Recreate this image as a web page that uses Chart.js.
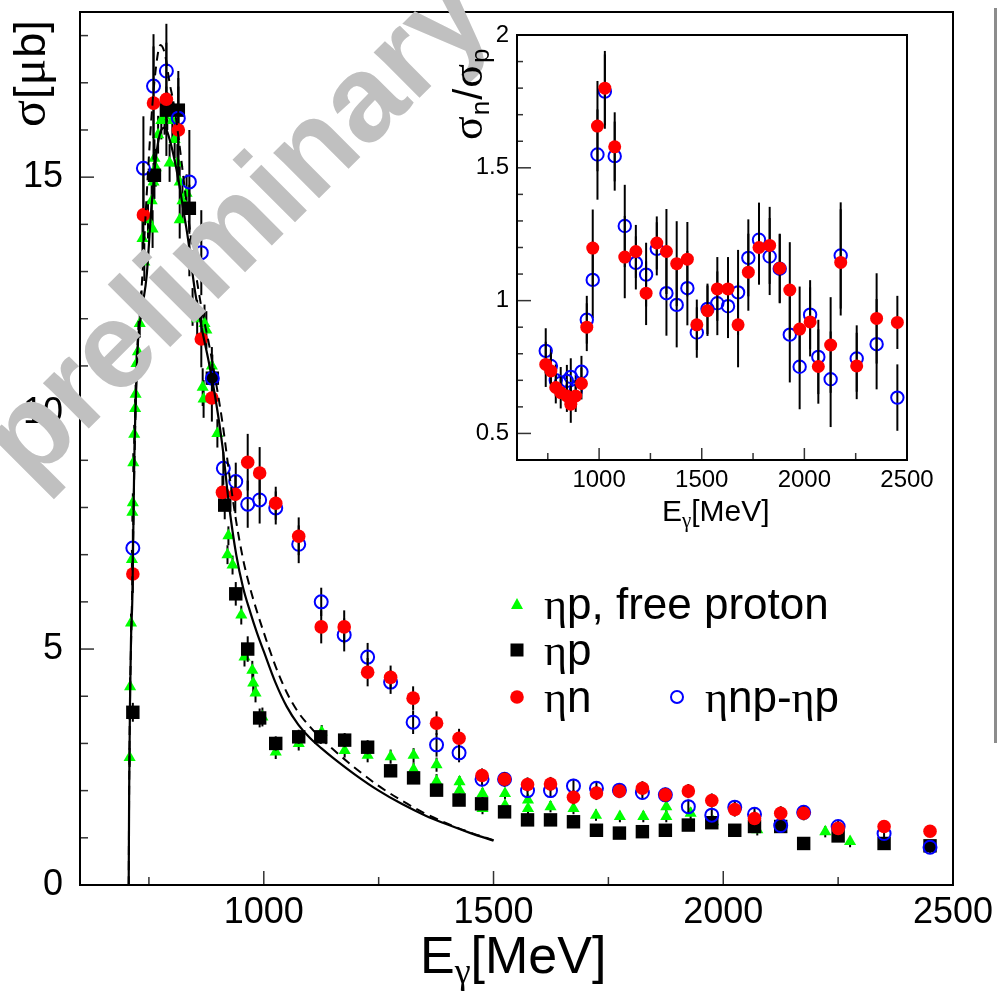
<!DOCTYPE html>
<html>
<head>
<meta charset="utf-8">
<script src="https://cdn.jsdelivr.net/npm/chart.js@4.4.1/dist/chart.umd.min.js"></script>
<style>
  html, body { margin: 0; padding: 0; background: #fff; }
  #wrap { position: relative; width: 998px; height: 991px; overflow: hidden; background: #fff; }
  #main { position: absolute; left: 0; top: 0; }
  #inset { position: absolute; left: 440px; top: 10px; }
  #bar { position: absolute; left: 994px; top: 8px; width: 3px; height: 735px; background: #8c8c8c; }
</style>
</head>
<body>
<div id="wrap">
  <canvas id="main" width="998" height="991"></canvas>
  <canvas id="inset" width="510" height="530"></canvas>
  <div id="bar"></div>
</div>
<script>
// ---- main plot: total cross sections (E in MeV, sigma in microbarn) ----
// eta p, free proton
const gE = [708,709,711,713,714,715,716,718,720,721,723,726,730,734,736,740,748,756,758,760,762,765,770,777,784,790,795,801,806,812,817,817,823,832,838,845,855,867,869,871,875,887,899,921,923,932,951,958,975,977,982,997,1026,1076,1126,1176,1226,1276,1326,1326,1376,1376,1426,1426,1476,1476,1525,1525,1575,1575,1624,1674,1723,1775,1826,1876,1876,1929,1978,2074,2222,2276];
const gS = [2.7,4.2,5.55,6.9,7.9,8.1,8.95,9.55,10.1,10.4,11.05,11.3,11.9,12.3,13.7,13.2,14.1,14.5,13.9,14.9,15.4,15.2,15.9,16.2,16.3,16.4,15.3,16.2,15.8,15.3,14.9,14.1,14.5,14.66,13.3,12.25,12.0,10.55,10.3,11.9,11.76,11.0,9.57,7.0,7.4,6.78,5.72,4.83,4.55,4.28,4.07,3.56,2.82,3.0,3.24,2.85,2.75,2.72,2.45,2.75,2.55,2.2,2.19,2.01,1.94,1.62,1.94,1.69,1.8,1.62,1.66,1.62,1.48,1.45,1.45,1.66,1.45,1.52,1.34,1.17,1.13,0.92];
const gErr = [0.2,0.2,0.2,0.2,0.2,0.2,0.2,0.2,0.2,0.2,0.3,0.3,0.3,0.3,0.4,0.4,0.4,0.4,0.4,0.4,0.4,0.4,0.4,0.4,0.4,0.4,0.4,0.4,0.4,0.4,0.4,0.4,0.4,0.4,0.4,0.4,0.4,0.4,0.4,0.4,0.4,0.4,0.3,0.2,0.2,0.2,0.2,0.2,0.2,0.2,0.2,0.2,0.15,0.15,0.15,0.15,0.15,0.15,0.15,0.15,0.15,0.15,0.12,0.12,0.12,0.12,0.12,0.12,0.12,0.12,0.12,0.12,0.12,0.12,0.12,0.12,0.12,0.12,0.12,0.12,0.12,0.12];
// eta p (quasi-free)
const pE = [715,762,788,814,838,888,915,939,965,991,1026,1076,1124,1176,1226,1276,1326,1376,1425,1474,1524,1574,1624,1674,1724,1774,1824,1874,1924,1975,2025,2068,2125,2175,2250,2350,2450];
const pS = [3.66,15.04,16.42,16.42,14.34,10.74,8.05,6.17,5.0,3.54,3.0,3.14,3.14,3.07,2.92,2.42,2.27,2.01,1.8,1.72,1.55,1.38,1.38,1.34,1.16,1.1,1.13,1.16,1.27,1.32,1.16,1.24,1.24,0.88,1.04,0.88,0.83];
const pErr = [0.2,0.5,0.5,0.5,0.5,0.3,0.3,0.25,0.27,0.2,0.15,0.15,0.15,0.15,0.15,0.12,0.12,0.12,0.12,0.12,0.1,0.1,0.1,0.1,0.1,0.1,0.1,0.1,0.1,0.1,0.1,0.1,0.1,0.1,0.1,0.1,0.1];
// eta n
const nE = [715,738,760,788,814,864,887,910,938,965,991,1026,1076,1125,1175,1226,1276,1325,1376,1425,1475,1524,1574,1624,1674,1724,1774,1824,1874,1924,1975,2025,2068,2125,2175,2250,2350,2450];
const nS = [6.59,14.2,16.57,16.65,16.0,11.57,10.32,8.32,8.28,8.96,8.73,8.09,7.39,5.47,5.47,4.51,4.4,3.96,3.43,3.11,2.32,2.24,2.13,2.14,1.86,1.95,1.99,2.05,1.91,1.99,1.79,1.6,1.41,1.52,1.52,1.2,1.24,1.14];
const nErr = [0.4,1.1,1.2,1.2,1.1,0.6,0.5,0.35,0.4,0.6,0.55,0.35,0.4,0.35,0.35,0.3,0.25,0.25,0.25,0.2,0.15,0.15,0.15,0.15,0.15,0.15,0.15,0.15,0.15,0.15,0.15,0.15,0.15,0.15,0.15,0.12,0.12,0.12];
// eta np - eta p
const bE = [715,738,760,788,814,838,864,888,912,939,965,991,1026,1076,1125,1175,1226,1276,1325,1376,1425,1475,1524,1574,1624,1674,1724,1774,1824,1874,1924,1975,2025,2068,2125,2175,2250,2350,2450];
const bS = [7.14,15.19,16.93,17.25,16.25,14.9,13.4,10.74,8.83,8.55,8.07,8.16,7.99,7.22,6.0,5.3,4.83,4.3,3.45,2.97,2.8,2.24,2.24,2.0,2.0,2.1,2.05,2.01,1.96,1.91,1.66,1.48,1.65,1.5,1.26,1.54,1.24,1.09,0.8];
const bErr = [0.4,1.1,1.1,1.0,1.0,1.1,0.9,0.5,0.35,0.4,0.5,0.5,0.35,0.4,0.3,0.35,0.3,0.25,0.25,0.25,0.2,0.15,0.15,0.15,0.15,0.15,0.15,0.15,0.15,0.15,0.15,0.15,0.15,0.15,0.15,0.15,0.12,0.12,0.12];
// model curves
const fitE = [706,707,709,711,714,718,725,735,745,755,765,775,785,795,805,815,825,835,850,865,880,895,910,925,940,955,970,985,1000,1025,1050,1075,1100,1125,1150,1200,1250,1300,1350,1400,1450,1500];
const fitS = [0,2,4,5.2,6.1,8.9,11.3,12.2,12.9,14.3,15.4,15.95,16.05,15.8,15.4,14.9,14.3,13.7,12.6,11.8,11.1,10.3,9.3,8.0,7.0,6.3,5.8,5.35,4.95,4.3,3.78,3.4,3.12,2.9,2.7,2.33,2.0,1.72,1.48,1.28,1.1,0.94];
const dashE = [706,707,709,712,715,719,726,735,745,755,765,775,785,795,805,815,825,835,850,865,880,895,910,925,940,955,970,985,1000,1025,1050,1075,1100,1125,1150,1200,1250,1300,1350,1400,1450,1500];
const dashS = [0,2,4,5.5,7.0,9.2,11.6,12.8,14.6,16.2,17.3,17.8,17.6,17.0,16.5,15.8,15.0,14.2,13.1,12.2,11.5,10.7,9.8,8.7,7.7,6.9,6.3,5.8,5.35,4.65,4.08,3.66,3.36,3.1,2.88,2.47,2.1,1.79,1.52,1.3,1.11,0.95];

// ---- inset: ratio sigma_n / sigma_p ----
const rE = [740,765,789,813,843,862,886,914,940,969,992,1028,1076,1125,1179,1229,1281,1328,1378,1430,1476,1528,1576,1628,1677,1727,1779,1831,1880,1929,1977,2028,2068,2128,2177,2255,2352,2453];
const rRed = [0.76,0.735,0.673,0.654,0.641,0.61,0.641,0.688,0.9,1.198,1.657,1.8,1.579,1.164,1.185,1.028,1.217,1.185,1.139,1.156,0.909,0.962,1.044,1.044,0.909,1.107,1.2,1.208,1.122,1.04,0.893,0.92,0.752,0.833,1.144,0.754,0.933,0.918];
const rRedErr = [0.085,0.07,0.06,0.06,0.06,0.07,0.06,0.06,0.09,0.145,0.17,0.14,0.13,0.155,0.1,0.12,0.1,0.16,0.16,0.14,0.095,0.095,0.12,0.12,0.16,0.145,0.14,0.145,0.13,0.18,0.16,0.13,0.14,0.18,0.2,0.125,0.17,0.1];
const rBlue = [0.811,0.754,0.7,0.69,0.698,0.713,0.66,0.732,0.928,1.078,1.55,1.787,1.544,1.281,1.142,1.098,1.195,1.028,0.984,1.047,0.88,0.969,0.99,0.979,1.031,1.161,1.229,1.166,1.12,0.872,0.751,0.947,0.788,0.704,1.17,0.782,0.836,0.635];
const rBlueErr = [0.085,0.07,0.06,0.06,0.06,0.07,0.06,0.06,0.09,0.145,0.17,0.14,0.13,0.155,0.1,0.12,0.1,0.16,0.16,0.14,0.095,0.095,0.12,0.12,0.16,0.145,0.14,0.145,0.13,0.18,0.16,0.13,0.14,0.18,0.2,0.125,0.17,0.125];

const mainXTicks = [1000, 1500, 2000, 2500];
const mainYTicks = [0, 5, 10, 15];
const insetXTicks = [1000, 1500, 2000, 2500];
const insetYTicks = [0.5, 1, 1.5, 2];

const SANS = '"Liberation Sans", Arial, sans-serif';
const SERIF = '"Liberation Serif", "DejaVu Serif", serif';

function pts(xs, ys) {
  return xs.map((x, i) => ({ x: x, y: ys[i] }));
}

// draw a run of text pieces: [text, font, dy]
function rich(ctx, parts, x, y, gap) {
  let cx = x;
  parts.forEach(p => {
    ctx.font = p[1];
    ctx.fillText(p[0], cx, y + (p[2] || 0));
    cx += ctx.measureText(p[0]).width + (gap || 0);
  });
}

// vertical error bars, drawn just before each dataset
const errorBars = {
  id: 'errorBars',
  beforeDatasetDraw(chart, args) {
    const ds = chart.data.datasets[args.index];
    if (!ds.errs) return;
    const ctx = chart.ctx, ys = chart.scales.y, a = chart.chartArea;
    ctx.save();
    ctx.beginPath();
    ctx.rect(a.left, a.top, a.right - a.left, a.bottom - a.top);
    ctx.clip();
    ctx.strokeStyle = '#000';
    ctx.lineWidth = 2;
    args.meta.data.forEach((el, i) => {
      const v = ds.data[i].y, e = ds.errs[i];
      if (!e) return;
      ctx.beginPath();
      ctx.moveTo(el.x, ys.getPixelForValue(v - e));
      ctx.lineTo(el.x, ys.getPixelForValue(v + e));
      ctx.stroke();
    });
    ctx.restore();
  }
};

// ROOT style frame with inward ticks on left and bottom axes
const frameTicks = {
  id: 'frameTicks',
  afterDraw(chart, args, o) {
    const ctx = chart.ctx, a = chart.chartArea;
    const xs = chart.scales.x, ys = chart.scales.y;
    ctx.save();
    ctx.strokeStyle = '#333';
    ctx.lineWidth = 1.5;
    for (let k = Math.ceil(xs.min / o.xMinor - 1e-9); k * o.xMinor <= xs.max + 1e-9; k++) {
      const v = k * o.xMinor;
      const major = Math.abs(v / o.xMajor - Math.round(v / o.xMajor)) < 1e-6;
      const px = xs.getPixelForValue(v);
      ctx.beginPath();
      ctx.moveTo(px, a.bottom);
      ctx.lineTo(px, a.bottom - (major ? o.xMajLen : o.xMinLen));
      ctx.stroke();
    }
    for (let k = Math.ceil(ys.min / o.yMinor - 1e-9); k * o.yMinor <= ys.max + 1e-9; k++) {
      const v = k * o.yMinor;
      const major = Math.abs(v / o.yMajor - Math.round(v / o.yMajor)) < 1e-6;
      const py = ys.getPixelForValue(v);
      ctx.beginPath();
      ctx.moveTo(a.left, py);
      ctx.lineTo(a.left + (major ? o.yMajLen : o.yMinLen), py);
      ctx.stroke();
    }
    ctx.strokeStyle = '#000';
    ctx.lineWidth = 2;
    ctx.strokeRect(a.left, a.top, a.right - a.left, a.bottom - a.top);
    ctx.restore();
  }
};

function drawMarker(ctx, kind, x, y) {
  ctx.save();
  if (kind === 'tri') {
    ctx.fillStyle = '#00ff00';
    ctx.beginPath();
    ctx.moveTo(x, y - 7);
    ctx.lineTo(x + 6, y + 4);
    ctx.lineTo(x - 6, y + 4);
    ctx.closePath();
    ctx.fill();
  } else if (kind === 'sq') {
    ctx.fillStyle = '#000';
    ctx.fillRect(x - 6.5, y - 6.5, 13, 13);
  } else if (kind === 'dot') {
    ctx.fillStyle = '#ff0000';
    ctx.beginPath();
    ctx.arc(x, y, 6.8, 0, Math.PI * 2);
    ctx.fill();
  } else {
    ctx.strokeStyle = '#0000ff';
    ctx.lineWidth = 2;
    ctx.beginPath();
    ctx.arc(x, y, 6, 0, Math.PI * 2);
    ctx.stroke();
  }
  ctx.restore();
}

const mainDecor = {
  id: 'mainDecor',
  afterDraw(chart) {
    const ctx = chart.ctx;
    ctx.save();
    ctx.fillStyle = '#000';
    ctx.textAlign = 'left';
    ctx.textBaseline = 'alphabetic';

    // y title
    ctx.save();
    ctx.translate(45, 127);
    ctx.rotate(-Math.PI / 2);
    rich(ctx, [['σ', '50px ' + SERIF], ['[', '45px ' + SANS], ['μ', '50px ' + SERIF], ['b]', '45px ' + SANS]], 0, 0, 1);
    ctx.restore();

    // x title
    rich(ctx, [['E', '52px ' + SANS], ['γ', '36px ' + SERIF, 10], ['[MeV]', '52px ' + SANS]], 420, 973);

    // legend
    const f = '44px ';
    drawMarker(ctx, 'tri', 517, 605);
    rich(ctx, [['η', f + SERIF], ['p, free proton', f + SANS]], 544, 619);
    drawMarker(ctx, 'sq', 517, 650);
    rich(ctx, [['η', f + SERIF], ['p', f + SANS]], 544, 665);
    drawMarker(ctx, 'dot', 517, 697);
    rich(ctx, [['η', f + SERIF], ['n', f + SANS]], 544, 712);
    drawMarker(ctx, 'ring', 677, 697);
    rich(ctx, [['η', f + SERIF], ['np-', f + SANS], ['η', f + SERIF], ['p', f + SANS]], 705, 712);

    // watermark
    ctx.translate(240, 232);
    ctx.rotate(-Math.PI / 4);
    ctx.font = 'bold 122px ' + SANS;
    ctx.fillStyle = '#c0c0c0';
    ctx.textAlign = 'center';
    ctx.fillText('preliminary', 0, 32);
    ctx.restore();
  }
};

const insetDecor = {
  id: 'insetDecor',
  afterDraw(chart) {
    const ctx = chart.ctx;
    ctx.save();
    ctx.fillStyle = '#000';
    ctx.textAlign = 'left';
    ctx.textBaseline = 'alphabetic';
    ctx.save();
    ctx.translate(42, 130);
    ctx.rotate(-Math.PI / 2);
    rich(ctx, [['σ', '44px ' + SERIF], ['n', '26px ' + SANS, 7], ['/', '40px ' + SANS], ['σ', '44px ' + SERIF], ['p', '26px ' + SANS, 7]], 0, 0, 1);
    ctx.restore();
    rich(ctx, [['E', '30px ' + SANS], ['γ', '21px ' + SERIF, 6], ['[MeV]', '30px ' + SANS]], 222, 511);
    ctx.restore();
  }
};

const tickFont = (size) => ({ family: SANS, size: size });
// keep the plot frame where it is, whatever the label sizes
const noPad = s => { s.paddingTop = 0; s.paddingBottom = 0; s.paddingLeft = 0; s.paddingRight = 0; };

new Chart(document.getElementById('main'), {
  type: 'scatter',
  data: {
    datasets: [
      { label: 'model', data: pts(fitE, fitS), showLine: true, pointRadius: 0, borderColor: '#000', borderWidth: 2.2, cubicInterpolationMode: 'monotone', order: 0 },
      { label: 'model (dashed)', data: pts(dashE, dashS), showLine: true, pointRadius: 0, borderColor: '#000', borderWidth: 2, borderDash: [9, 6], cubicInterpolationMode: 'monotone', order: 0 },
      { label: 'ηn', data: pts(nE, nS), errs: nErr, pointStyle: 'circle', pointRadius: 6.8, backgroundColor: '#ff0000', borderColor: '#ff0000', borderWidth: 0, order: 1 },
      { label: 'ηnp-ηp', data: pts(bE, bS), errs: bErr, pointStyle: 'circle', pointRadius: 6.5, backgroundColor: 'rgba(0,0,0,0)', borderColor: '#0000ff', borderWidth: 2, order: 2 },
      { label: 'ηp', data: pts(pE, pS), errs: pErr, pointStyle: 'rect', pointRadius: 9.5, backgroundColor: '#000', borderColor: '#000', borderWidth: 0, order: 3 },
      { label: 'ηp, free proton', data: pts(gE, gS), errs: gErr, pointStyle: 'triangle', pointRadius: 7, backgroundColor: '#00ff00', borderColor: '#00ff00', borderWidth: 0, order: 4 }
    ]
  },
  options: {
    responsive: false,
    animation: false,
    devicePixelRatio: 1,
    layout: { padding: { left: 0, top: 12, right: 45, bottom: 0 } },
    plugins: {
      legend: { display: false },
      tooltip: { enabled: false },
      frameTicks: { xMajor: 500, xMinor: 250, yMajor: 5, yMinor: 1, xMajLen: 14, xMinLen: 8, yMajLen: 14, yMinLen: 8 }
    },
    scales: {
      x: {
        type: 'linear', min: 600, max: 2500,
        grid: { display: false, drawTicks: false },
        border: { display: false },
        afterBuildTicks: s => { s.ticks = mainXTicks.map(v => ({ value: v })); },
        afterFit: s => { s.height = 106; noPad(s); },
        ticks: { font: tickFont(36), color: '#000', padding: 6, maxRotation: 0, callback: v => String(v) }
      },
      y: {
        type: 'linear', min: 0, max: 18.5,
        grid: { display: false, drawTicks: false },
        border: { display: false },
        afterBuildTicks: s => { s.ticks = mainYTicks.map(v => ({ value: v })); },
        afterFit: s => { s.width = 80; noPad(s); },
        ticks: { font: tickFont(36), color: '#000', padding: 17, callback: v => String(v) }
      }
    }
  },
  plugins: [errorBars, frameTicks, mainDecor]
});

new Chart(document.getElementById('inset'), {
  type: 'scatter',
  data: {
    datasets: [
      { label: 'ηn', data: pts(rE, rRed), errs: rRedErr, pointStyle: 'circle', pointRadius: 6.5, backgroundColor: '#ff0000', borderColor: '#ff0000', borderWidth: 0, order: 0 },
      { label: 'ηnp-ηp', data: pts(rE, rBlue), errs: rBlueErr, pointStyle: 'circle', pointRadius: 6.2, backgroundColor: 'rgba(0,0,0,0)', borderColor: '#0000ff', borderWidth: 2, order: 1 }
    ]
  },
  options: {
    responsive: false,
    animation: false,
    devicePixelRatio: 1,
    layout: { padding: { left: 0, top: 25, right: 43, bottom: 0 } },
    plugins: {
      legend: { display: false },
      tooltip: { enabled: false },
      frameTicks: { xMajor: 500, xMinor: 250, yMajor: 0.5, yMinor: 0.1, xMajLen: 12, xMinLen: 7, yMajLen: 14, yMinLen: 6 }
    },
    scales: {
      x: {
        type: 'linear', min: 600, max: 2500,
        grid: { display: false, drawTicks: false },
        border: { display: false },
        afterBuildTicks: s => { s.ticks = insetXTicks.map(v => ({ value: v })); },
        afterFit: s => { s.height = 80; noPad(s); },
        ticks: { font: tickFont(24), color: '#000', padding: 6, maxRotation: 0, callback: v => String(v) }
      },
      y: {
        type: 'linear', min: 0.4, max: 2,
        grid: { display: false, drawTicks: false },
        border: { display: false },
        afterBuildTicks: s => { s.ticks = insetYTicks.map(v => ({ value: v })); },
        afterFit: s => { s.width = 77; noPad(s); },
        ticks: { font: tickFont(24), color: '#000', padding: 8, callback: v => String(v) }
      }
    }
  },
  plugins: [errorBars, frameTicks, insetDecor]
});
</script>
</body>
</html>
